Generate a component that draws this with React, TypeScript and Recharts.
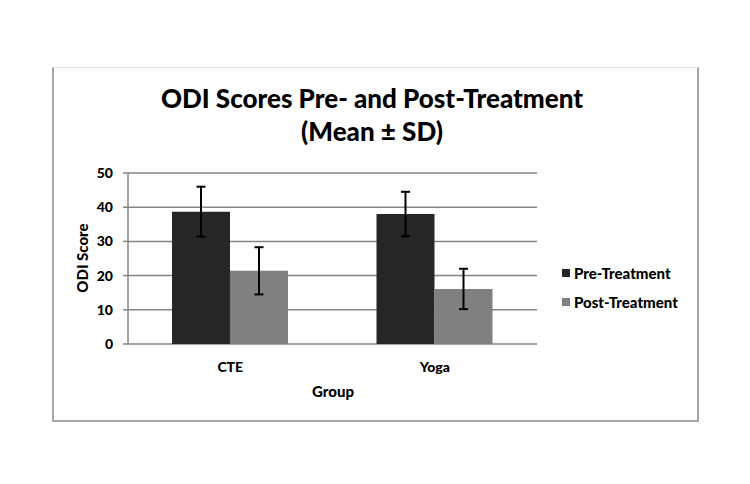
import { BarChart, Bar, XAxis, YAxis, CartesianGrid, ErrorBar } from 'recharts';

const groups = ['CTE', 'Yoga'];
const preMean = [38.7, 38.0];
const preSD = [7.3, 6.5];
const postMean = [21.4, 16.1];
const postSD = [6.9, 5.9];
const yTicks = [0, 10, 20, 30, 40, 50];
const edgeTicks = [0, 1, 2];

const PRE = '#262626';
const POST = '#808080';
const GRID = '#858585';
const FONT = 'Lato, "Open Sans", sans-serif';
const WEIGHT = 900;

const data = groups.map((g, i) => ({
  group: g,
  pre: preMean[i],
  preErr: preSD[i],
  post: postMean[i],
  postErr: postSD[i],
}));

const legendItems = [
  { label: 'Pre-Treatment', color: PRE },
  { label: 'Post-Treatment', color: POST },
];

export default function App() {
  return (
    <div
      style={{
        position: 'absolute',
        left: 0,
        top: 0,
        width: 750,
        height: 484,
        background: '#fff',
        fontFamily: FONT,
        fontWeight: WEIGHT,
        color: '#000',
      }}
    >
      {/* chart frame */}
      <div
        style={{
          position: 'absolute',
          left: 52,
          top: 67,
          width: 643,
          height: 352,
          borderTop: '1px solid #e6e6e6',
          borderLeft: '2px solid #a6a6a6',
          borderRight: '2px solid #a6a6a6',
          borderBottom: '2px solid #a6a6a6',
        }}
      />
      <div
        style={{
          position: 'absolute',
          left: 0,
          width: 744,
          top: 82,
          textAlign: 'center',
          fontSize: 26,
          lineHeight: '33px',
        }}
      >
        ODI Scores Pre- and Post-Treatment
        <br />
        (Mean ± SD)
      </div>

      <BarChart
        width={750}
        height={484}
        data={data}
        margin={{ top: 173, right: 213, bottom: 110, left: 88 }}
        barGap={0}
        barSize={58}
        style={{ position: 'absolute', left: 0, top: 0 }}
      >
        <CartesianGrid horizontal vertical={false} stroke={GRID} strokeWidth={1.5} />
        <XAxis
          xAxisId="edge"
          type="number"
          domain={[0, 2]}
          ticks={edgeTicks}
          tick={false}
          tickSize={5}
          tickLine={{ stroke: GRID, strokeWidth: 1.5 }}
          axisLine={{ stroke: GRID, strokeWidth: 1.5 }}
          height={0}
          allowDataOverflow
        />
        <XAxis
          dataKey="group"
          height={30}
          axisLine={false}
          tickLine={false}
          tickMargin={12}
          tick={{ fill: '#000', fontSize: 14, fontWeight: WEIGHT, fontFamily: FONT }}
        />
        <YAxis
          width={40}
          domain={[0, 50]}
          ticks={yTicks}
          tickSize={5}
          tickMargin={10}
          axisLine={{ stroke: GRID, strokeWidth: 1.5 }}
          tickLine={{ stroke: GRID, strokeWidth: 1.5 }}
          tick={{ fill: '#000', fontSize: 14, fontWeight: WEIGHT, fontFamily: FONT }}
        />
        <Bar dataKey="pre" fill={PRE} isAnimationActive={false}>
          <ErrorBar dataKey="preErr" width={4.5} stroke="#000" strokeWidth={2} />
        </Bar>
        <Bar dataKey="post" fill={POST} isAnimationActive={false}>
          <ErrorBar dataKey="postErr" width={4.5} stroke="#000" strokeWidth={2} />
        </Bar>
      </BarChart>

      {/* axis titles */}
      <div
        style={{
          position: 'absolute',
          left: 82,
          top: 258,
          fontSize: 15,
          whiteSpace: 'nowrap',
          transform: 'translate(-50%, -50%) rotate(-90deg)',
        }}
      >
        ODI Score
      </div>
      <div
        style={{
          position: 'absolute',
          left: 333,
          top: 391,
          fontSize: 15,
          whiteSpace: 'nowrap',
          transform: 'translate(-50%, -50%)',
        }}
      >
        Group
      </div>

      {/* legend */}
      {legendItems.map((item, i) => (
        <div
          key={item.label}
          style={{
            position: 'absolute',
            left: 562,
            top: 273 + i * 29,
            transform: 'translateY(-50%)',
            display: 'flex',
            alignItems: 'center',
            fontSize: 15,
            whiteSpace: 'nowrap',
          }}
        >
          <span
            style={{ width: 8, height: 8, background: item.color, marginRight: 4, display: 'inline-block' }}
          />
          {item.label}
        </div>
      ))}
    </div>
  );
}
